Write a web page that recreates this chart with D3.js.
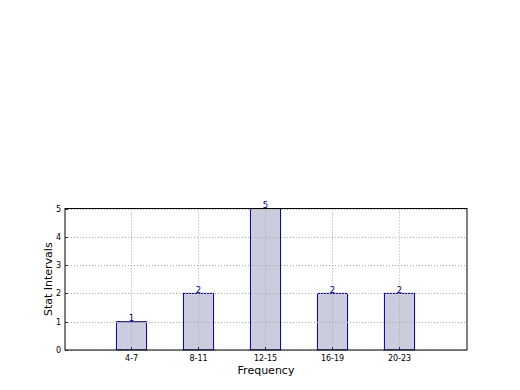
<!DOCTYPE html>
<meta charset="utf-8" />
<style>
  body { margin: 0; background: #fff; }
  text { font-family: "DejaVu Sans", sans-serif; }
</style>
<svg width="520" height="390"></svg>
<script src="https://d3js.org/d3.v7.min.js"></script>
<script>
  var categories = ["4-7", "8-11", "12-15", "16-19", "20-23"];
  var counts = [1, 2, 5, 2, 2];
  var yTicks = [0, 1, 2, 3, 4, 5];

  var svg = d3.select("svg");
  var plotL = 65, plotR = 467, plotT = 208.5, plotB = 350;

  // bar positions are indices, axis runs from -1 to 5 like the original
  var x = d3.scaleLinear().domain([-1, 5]).range([plotL, plotR]);
  var y = d3.scaleLinear().domain([0, 5]).range([plotB, plotT]);
  var barW = 0.45;

  // bars
  svg.append("g").selectAll("rect")
    .data(counts)
    .enter().append("rect")
    .attr("x", (d, i) => x(i - barW / 2) - 0.5)
    .attr("y", d => y(d))
    .attr("width", x(barW) - x(0))
    .attr("height", d => plotB - y(d))
    .attr("fill", "#ccccdf")
    .attr("stroke", "#000080")
    .attr("stroke-width", 1);

  // grid on top of bars
  var grid = svg.append("g")
    .attr("stroke", "#a8a8a8")
    .attr("stroke-width", 1)
    .attr("stroke-dasharray", "1,2");

  grid.selectAll("line.v")
    .data(categories)
    .enter().append("line")
    .attr("x1", (d, i) => Math.round(x(i)) - 0.5)
    .attr("x2", (d, i) => Math.round(x(i)) - 0.5)
    .attr("y1", plotT)
    .attr("y2", plotB);

  grid.selectAll("line.h")
    .data(yTicks)
    .enter().append("line")
    .attr("x1", plotL)
    .attr("x2", plotR)
    .attr("y1", d => Math.round(y(d)) + 0.5)
    .attr("y2", d => Math.round(y(d)) + 0.5);

  // value labels
  svg.append("g").selectAll("text")
    .data(counts)
    .enter().append("text")
    .attr("x", (d, i) => x(i) - 0.5)
    .attr("y", d => y(d) - 0.5)
    .attr("text-anchor", "middle")
    .attr("font-size", 8.5)
    .attr("fill", "#000080")
    .text(d => d);

  // frame
  svg.append("rect")
    .attr("x", plotL)
    .attr("y", plotT)
    .attr("width", plotR - plotL)
    .attr("height", plotB - plotT)
    .attr("fill", "none")
    .attr("stroke", "#000")
    .attr("stroke-width", 1);

  // small inward ticks on left and bottom
  var ticks = svg.append("g").attr("stroke", "#333").attr("stroke-width", 1);
  yTicks.forEach(function(t) {
    var yy = Math.round(y(t)) + 0.5;
    ticks.append("line").attr("x1", plotL).attr("x2", plotL + 3).attr("y1", yy).attr("y2", yy);
  });
  categories.forEach(function(c, i) {
    var xx = Math.round(x(i)) - 0.5;
    ticks.append("line").attr("x1", xx).attr("x2", xx).attr("y1", plotB).attr("y2", plotB - 3);
  });

  svg.append("g").selectAll("text")
    .data(yTicks)
    .enter().append("text")
    .attr("x", plotL - 4)
    .attr("y", d => y(d) + 3)
    .attr("text-anchor", "end")
    .attr("font-size", 8)
    .text(d => d);

  svg.append("g").selectAll("text")
    .data(categories)
    .enter().append("text")
    .attr("x", (d, i) => x(i) - 0.5)
    .attr("y", plotB + 11)
    .attr("text-anchor", "middle")
    .attr("font-size", 8)
    .text(d => d);

  svg.append("text")
    .attr("x", (plotL + plotR) / 2)
    .attr("y", 374)
    .attr("text-anchor", "middle")
    .attr("font-size", 11)
    .text("Frequency");

  svg.append("text")
    .attr("transform", "translate(52," + ((plotT + plotB) / 2) + ") rotate(-90)")
    .attr("text-anchor", "middle")
    .attr("font-size", 11)
    .text("Stat Intervals");
</script>
